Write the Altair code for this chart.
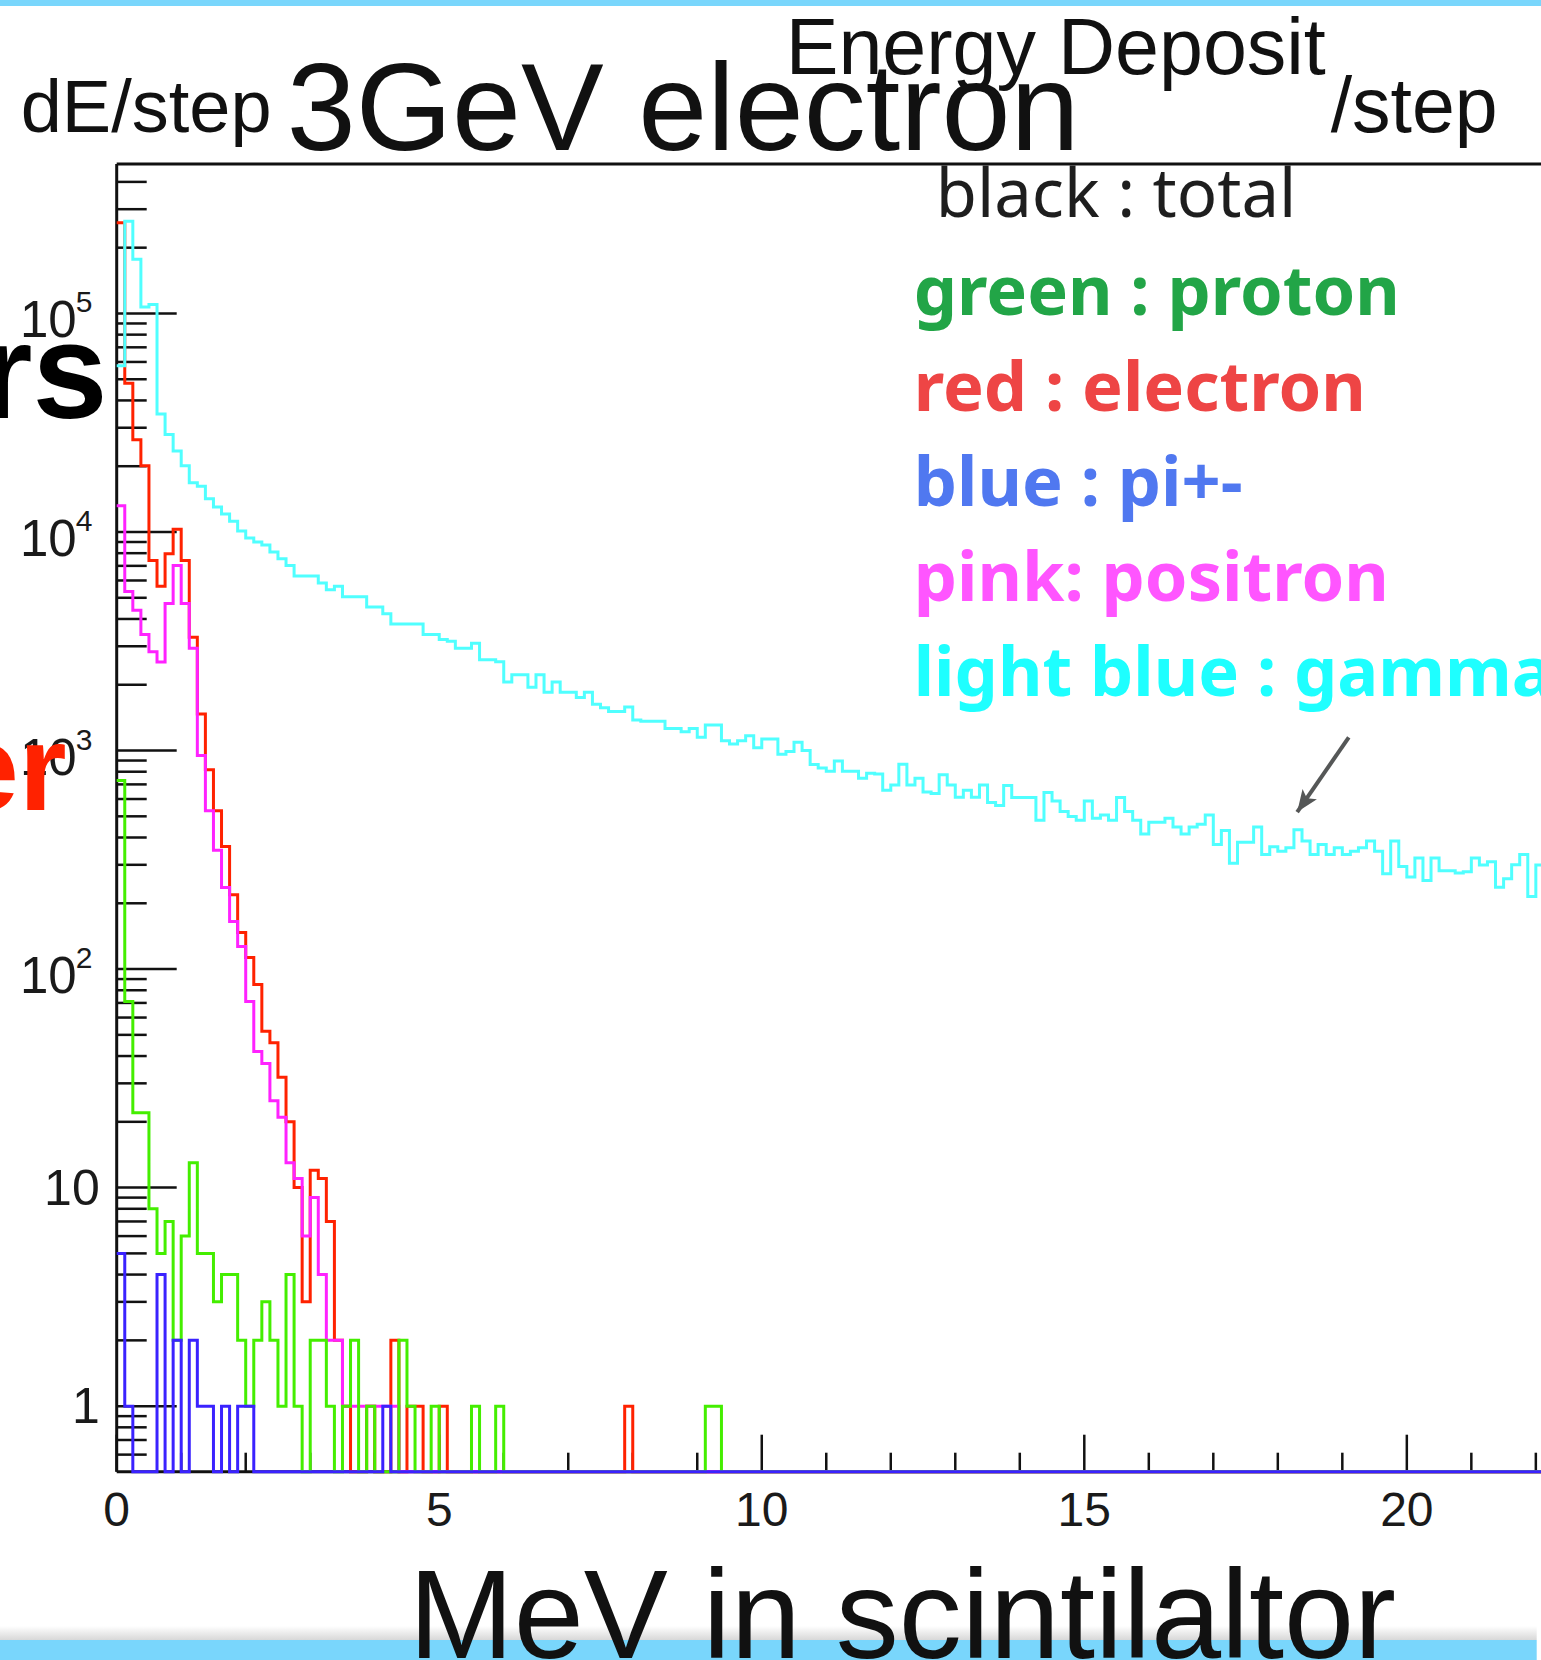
import altair as alt
import pandas as pd

# ---------------- data ----------------
BIN_W = 0.125          # MeV per histogram bin
N_BINS = 177           # bins visible in the picture (0 .. 22.1 MeV)
X_MAX = 22.08
Y_MIN = 0.5012
Y_MAX = 4.83e5

GAMMA = [57600, 264000, 177000, 107000, 110000, 34700, 27900, 23500, 20100, 16800,
         16200, 14200, 13000, 12100, 11200, 10100, 9380, 9000, 8720, 8110,
         7550, 7020, 6290, 6290, 6290, 5850, 5440, 5640, 5060, 5060,
         5060, 4540, 4540, 4230, 3790, 3790, 3790, 3790, 3400, 3400,
         3220, 3160, 2940, 2940, 3100, 2600, 2600, 2550, 2060, 2220,
         2220, 1950, 2220, 1850, 2060, 1850, 1850, 1750, 1850, 1630,
         1570, 1510, 1510, 1580, 1380, 1360, 1360, 1360, 1260, 1260,
         1220, 1260, 1150, 1310, 1310, 1110, 1070, 1110, 1170, 1030,
         1130, 1130, 962, 990, 1090, 1000, 863, 832, 803, 895,
         803, 803, 747, 788, 780, 658, 695, 865, 695, 747,
         646, 636, 774, 695, 611, 658, 611, 695, 579, 560,
         691, 609, 609, 609, 480, 642, 587, 526, 499, 480,
         587, 490, 507, 480, 609, 526, 480, 415, 470, 470,
         490, 447, 415, 447, 460, 507, 372, 431, 305, 380,
         380, 447, 334, 363, 346, 359, 434, 386, 334, 372,
         334, 359, 334, 346, 359, 386, 346, 273, 386, 295,
         264, 322, 254, 322, 282, 282, 275, 279, 322, 299,
         310, 237, 259, 300, 334, 215, 299]

ELECTRON = [260000, 48000, 26400, 20100, 7400, 5640, 7960, 10300, 7410, 3300,
            1470, 817, 530, 364, 219, 147, 113, 85, 52, 46,
            32, 20, 10, 3, 12, 11, 7, 2, 1, 0,
            0, 1, 0, 0, 2, 0, 1, 1, 0, 0,
            1, 0, 0, 0, 0, 0, 0, 0, 0, 0,
            0, 0, 0, 0, 0, 0, 0, 0, 0, 0,
            0, 0, 0, 1]

POSITRON = [13200, 5340, 4380, 3400, 2830, 2540, 4710, 7020, 4710, 2940,
            950, 530, 350, 236, 165, 127, 71, 42, 37, 25,
            21, 13, 11, 6, 9, 4, 2, 2, 1, 1,
            1, 1, 1, 1, 1]

PROTON = [730, 71, 22, 22, 8, 5, 7, 2, 6, 13,
          5, 5, 3, 4, 4, 2, 1, 2, 3, 2,
          1, 4, 1, 0, 2, 2, 1, 0, 1, 2,
          0, 1, 0, 0, 0, 2, 1, 0, 0, 1,
          0, 0, 0, 0, 1, 0, 0, 1, 0, 0,
          0, 0, 0, 0, 0, 0, 0, 0, 0, 0,
          0, 0, 0, 0, 0, 0, 0, 0, 0, 0,
          0, 0, 0, 1, 1]

PION = [5, 1, 0, 0, 0, 4, 0, 2, 0, 2,
        1, 1, 0, 1, 0, 1, 1, 0, 0, 0,
        0, 0, 0, 0, 0, 0, 0, 0, 0, 0,
        0, 0, 0, 1]

Y_MAJOR = [1, 10, 100, 1000, 10000, 100000]
Y_EXP = ["", "", "2", "3", "4", "5"]
Y_BASE = ["1", "10", "10", "10", "10", "10"]
X_MAJOR = [0, 5, 10, 15, 20]
X_LABELS = ["0", "5", "10", "15", "20"]

ARROW_X = [19.10, 18.30]
ARROW_Y = [1149, 523]

LEGEND = ["green : proton", "red : electron", "blue : pi+-", "pink: positron", "light blue : gamma"]
LEGEND_COLORS = ["#22A547", "#EE4545", "#5078F0", "#FF55FF", "#1EFFFF"]

# ---------------- layout ----------------
W = 1424.3
H = 1307.7
PAD_L = 116.7
PAD_T = 164.0

XS = alt.Scale(domain=[0, X_MAX], nice=False, zero=False)
YS = alt.Scale(type="log", domain=[Y_MIN, Y_MAX], nice=False)


def hist_df(counts):
    c = list(counts) + [0] * (N_BINS - len(counts))
    xs = [i * BIN_W for i in range(N_BINS)] + [N_BINS * BIN_W]
    ys = c + [c[-1]]
    return pd.DataFrame({"x": xs, "y": [max(v, Y_MIN) for v in ys]})


def hist_layer(counts, color):
    return alt.Chart(hist_df(counts)).mark_line(
        interpolate="step-after", color=color, strokeWidth=3, clip=False
    ).encode(
        x=alt.X("x:Q", scale=XS, axis=None),
        y=alt.Y("y:Q", scale=YS, axis=None),
        order="x:Q",
    )


one = pd.DataFrame({"a": [0]})


def text(s, x, y, size, color="#111111", font="Liberation Sans", weight="normal", align="left"):
    return alt.Chart(one).mark_text(
        text=s, align=align, baseline="alphabetic", font=font, fontSize=size,
        fontWeight=weight, color=color
    ).encode(x=alt.value(x), y=alt.value(y))


layers = []

# slide bands
layers.append(alt.Chart(one).mark_rect(color="#79D6FC").encode(
    x=alt.value(-PAD_L), x2=alt.value(W), y=alt.value(-PAD_T), y2=alt.value(-PAD_T + 6)))
layers.append(alt.Chart(one).mark_rect(
    fill=alt.Gradient(gradient="linear",
                      stops=[alt.GradientStop(color="#FFFFFF", offset=0),
                             alt.GradientStop(color="#D8D8D8", offset=1)],
                      x1=0, x2=0, y1=0, y2=1)).encode(
    x=alt.value(-PAD_L), x2=alt.value(1420), y=alt.value(1462), y2=alt.value(1476)))
layers.append(alt.Chart(one).mark_rect(color="#79D6FC").encode(
    x=alt.value(-PAD_L), x2=alt.value(1420), y=alt.value(1476), y2=alt.value(1500)))

# frame
layers.append(alt.Chart(one).mark_rule(color="#111111", strokeWidth=3).encode(
    x=alt.value(0), y=alt.value(0), y2=alt.value(H)))
layers.append(alt.Chart(one).mark_rule(color="#111111", strokeWidth=3).encode(
    x=alt.value(0), x2=alt.value(W), y=alt.value(0)))
layers.append(alt.Chart(one).mark_rule(color="#111111", strokeWidth=3).encode(
    x=alt.value(0), x2=alt.value(W), y=alt.value(H)))

# y ticks
y_minor = [k * 10.0 ** n for n in range(-1, 6) for k in range(2, 10)
           if Y_MIN <= k * 10.0 ** n <= Y_MAX]
layers.append(alt.Chart(pd.DataFrame({"v": y_minor})).mark_rule(color="#111111", strokeWidth=2.5).encode(
    y=alt.Y("v:Q", scale=YS, axis=None), x=alt.value(0), x2=alt.value(30)))
layers.append(alt.Chart(pd.DataFrame({"v": Y_MAJOR})).mark_rule(color="#111111", strokeWidth=2.5).encode(
    y=alt.Y("v:Q", scale=YS, axis=None), x=alt.value(0), x2=alt.value(60)))

# x ticks
x_minor = [v for v in range(0, 23) if v % 5 != 0]
layers.append(alt.Chart(pd.DataFrame({"v": x_minor})).mark_rule(color="#111111", strokeWidth=2.5).encode(
    x=alt.X("v:Q", scale=XS, axis=None), y=alt.value(H), y2=alt.value(H - 19)))
layers.append(alt.Chart(pd.DataFrame({"v": X_MAJOR})).mark_rule(color="#111111", strokeWidth=2.5).encode(
    x=alt.X("v:Q", scale=XS, axis=None), y=alt.value(H), y2=alt.value(H - 37)))

# histograms
layers.append(hist_layer(ELECTRON, "#FF2200"))
layers.append(hist_layer(POSITRON, "#FF22FF"))
layers.append(hist_layer(PROTON, "#44EE00"))
layers.append(hist_layer(GAMMA, "#50FFFF"))
layers.append(hist_layer(PION, "#3A22FF"))

# y labels
ylab = pd.DataFrame({"v": Y_MAJOR, "base": Y_BASE, "exp": Y_EXP})
plain = ylab[ylab["exp"] == ""]
sup = ylab[ylab["exp"] != ""]
layers.append(alt.Chart(plain).mark_text(align="right", baseline="alphabetic", dy=17,
                                         font="Liberation Sans", fontSize=50, color="#1a1a1a").encode(
    y=alt.Y("v:Q", scale=YS, axis=None), x=alt.value(-17), text="base:N"))
layers.append(alt.Chart(sup).mark_text(align="right", baseline="alphabetic", dy=24,
                                       font="Liberation Sans", fontSize=51, color="#1a1a1a").encode(
    y=alt.Y("v:Q", scale=YS, axis=None), x=alt.value(-40), text="base:N"))
layers.append(alt.Chart(sup).mark_text(align="left", baseline="alphabetic", dy=-1,
                                       font="Liberation Sans", fontSize=30, color="#1a1a1a").encode(
    y=alt.Y("v:Q", scale=YS, axis=None), x=alt.value(-41), text="exp:N"))

# x labels
layers.append(alt.Chart(pd.DataFrame({"v": X_MAJOR, "t": X_LABELS})).mark_text(
    align="center", baseline="alphabetic", font="Liberation Sans", fontSize=48, color="#1a1a1a").encode(
    x=alt.X("v:Q", scale=XS, axis=None), y=alt.value(H + 54), text="t:N"))

# arrow
arrow = pd.DataFrame({"x": [ARROW_X[0]], "y": [ARROW_Y[0]], "x2": [ARROW_X[1]], "y2": [ARROW_Y[1]]})
layers.append(alt.Chart(arrow).mark_rule(color="#555757", strokeWidth=4).encode(
    x=alt.X("x:Q", scale=XS, axis=None), y=alt.Y("y:Q", scale=YS, axis=None),
    x2="x2:Q", y2="y2:Q"))
layers.append(alt.Chart(pd.DataFrame({"x": [ARROW_X[1]], "y": [ARROW_Y[1]]})).mark_point(
    shape="M0,0L0.8,2L0,1.55L-0.8,2Z", filled=True, color="#555757", size=480, angle=215, opacity=1).encode(
    x=alt.X("x:Q", scale=XS, axis=None), y=alt.Y("y:Q", scale=YS, axis=None)))

# slide texts
layers.append(text("Energy Deposit", 669, -90, 79))
layers.append(text("3GeV electron", 170, -14, 124))
layers.append(text("dE/step", -96, -32, 74))
layers.append(text("/step", 1214, -32, 77))
layers.append(text("MeV in scintilaltor", 292, 1494, 126))
layers.append(text("black : total", 819, 53, 67, color="#1e1e1e", font="Noto Sans"))
for i, (s, c) in enumerate(zip(LEGEND, LEGEND_COLORS)):
    layers.append(text(s, 797, 151.4 + 95.25 * i, 68.5, color=c, font="Noto Sans", weight="bold"))
layers.append(text("rs", -9, 254, 135, color="#000000", weight="bold", align="right"))
layers.append(text("er", -50, 646, 123, color="#FF2200", weight="bold", align="right"))

chart = alt.layer(*layers).properties(
    width=W, height=H,
    autosize=alt.AutoSizeParams(type="none"),
    padding={"left": PAD_L, "top": PAD_T, "right": 0, "bottom": 1660 - PAD_T - H},
    background="white",
).configure_view(stroke=None)

chart.save("out.html", embed_options={"renderer": "svg", "actions": False})
